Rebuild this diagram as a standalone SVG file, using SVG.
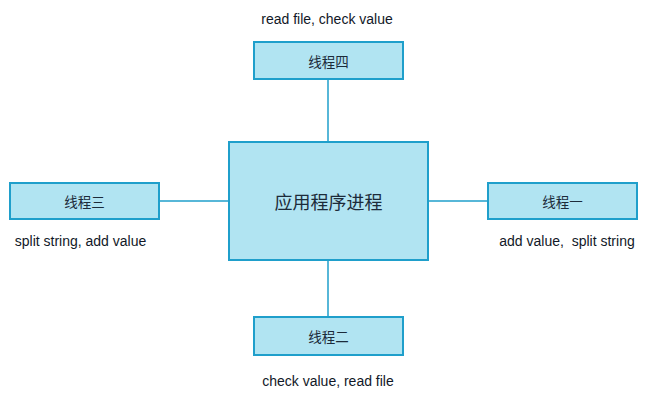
<svg xmlns="http://www.w3.org/2000/svg" width="659" height="407" viewBox="0 0 659 407">
<style>
.box{fill:#b1e4f2;stroke:#1f9fcb;stroke-width:2}
.conn{stroke:#1f9fcb;stroke-width:1.5;fill:none}
.t{font-family:"Noto Sans CJK SC","Noto Sans",sans-serif;fill:#1c2b3a;text-anchor:middle;dominant-baseline:central}
.l{font-family:"Liberation Sans",Arial,sans-serif;font-size:14px;fill:#111827;text-anchor:middle;dominant-baseline:central}
</style>
<rect width="659" height="407" fill="#fff"/>
<g id="connectors">
<line class="conn" x1="328" y1="79" x2="328" y2="142"/>
<line class="conn" x1="328" y1="260" x2="328" y2="317"/>
<line class="conn" x1="159" y1="201" x2="228" y2="201"/>
<line class="conn" x1="428" y1="201" x2="487" y2="201"/>
</g>
<g id="main">
<rect class="box" x="229" y="142" width="199" height="118"/>
<text class="t" x="328.5" y="201" font-size="18">应用程序进程</text>
</g>
<g id="thread4">
<rect class="box" x="254" y="42" width="149" height="37"/>
<text class="t" x="328.5" y="61" font-size="13.5">线程四</text>
<text class="l" x="327" y="19">read file, check value</text>
</g>
<g id="thread3">
<rect class="box" x="10" y="183" width="149" height="36"/>
<text class="t" x="84.5" y="201" font-size="13.5">线程三</text>
<text class="l" x="80.5" y="241">split string, add value</text>
</g>
<g id="thread1">
<rect class="box" x="488" y="183" width="149" height="36"/>
<text class="t" x="562.5" y="201" font-size="13.5">线程一</text>
<text class="l" x="567" y="241" xml:space="preserve">add value,  split string</text>
</g>
<g id="thread2">
<rect class="box" x="254" y="317" width="149" height="38"/>
<text class="t" x="328.5" y="336" font-size="13.5">线程二</text>
<text class="l" x="328" y="381">check value, read file</text>
</g>
</svg>
